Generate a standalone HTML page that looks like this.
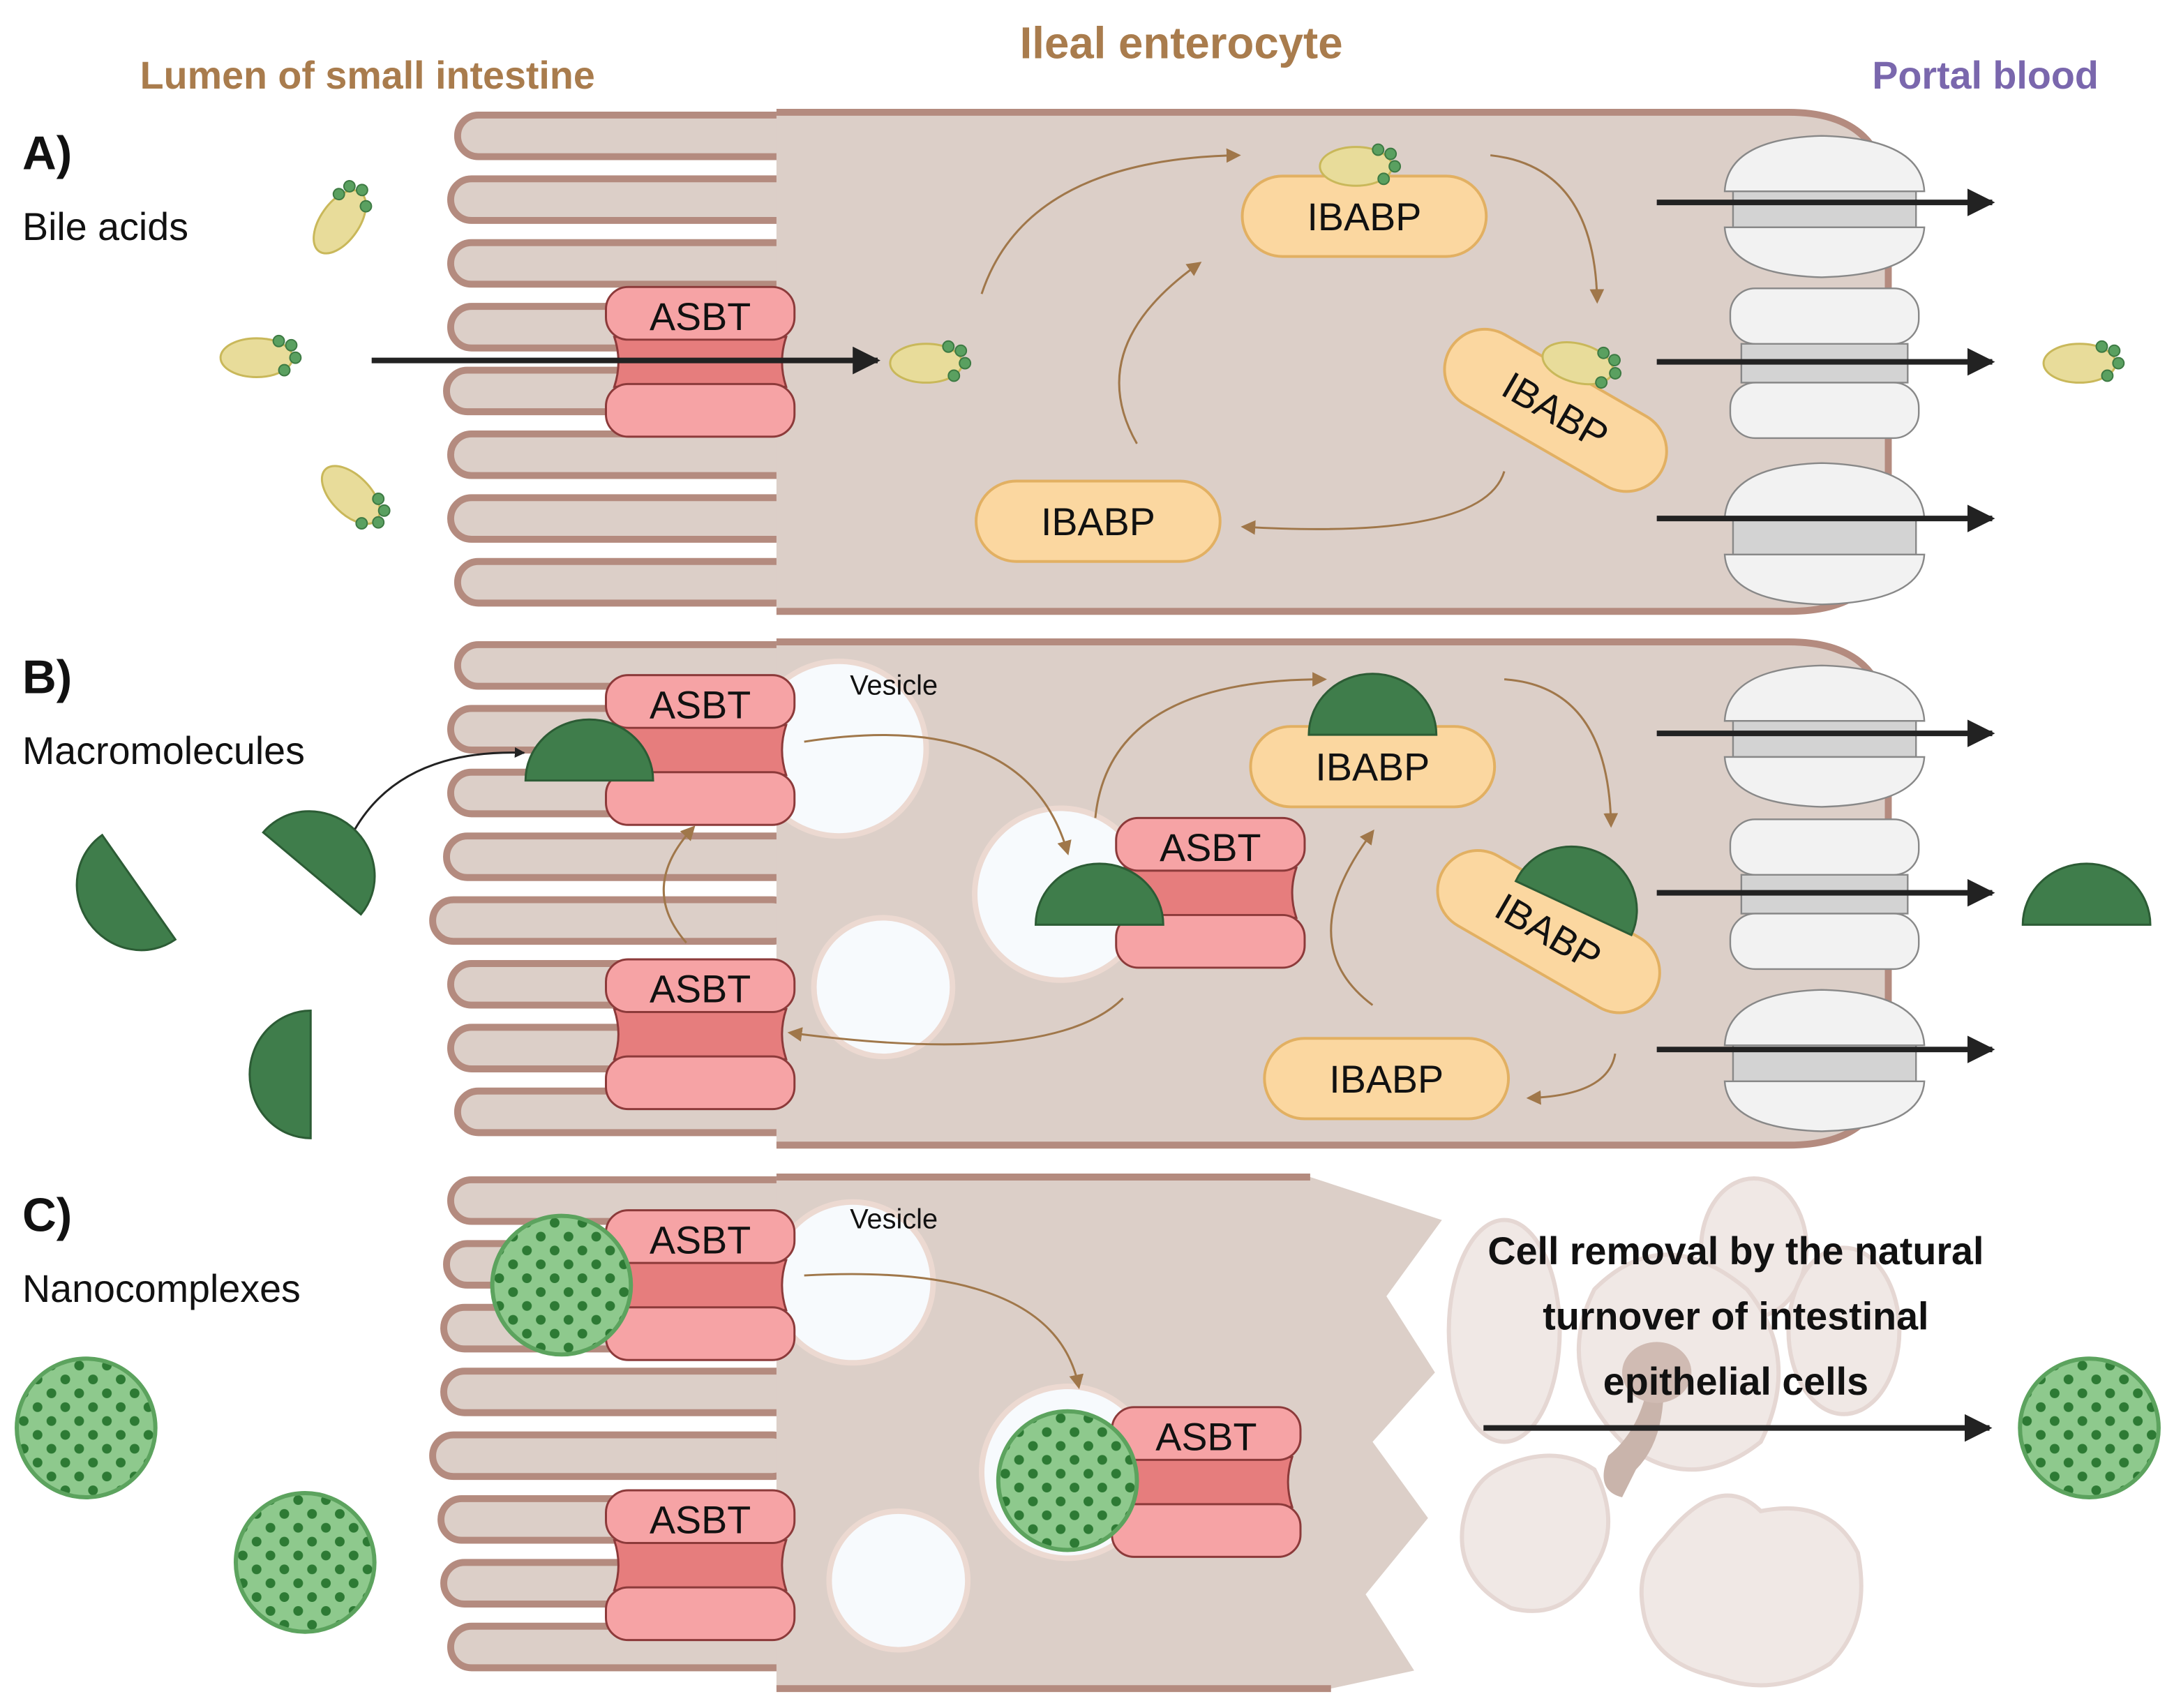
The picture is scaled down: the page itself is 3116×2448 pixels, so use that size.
<!DOCTYPE html>
<html><head><meta charset="utf-8"><style>
html,body{margin:0;padding:0;background:#fff}
svg{display:block}
text{font-family:"Liberation Sans",sans-serif}
</style></head><body>
<svg width="3116" height="2448" viewBox="0 0 1568 1232" xmlns="http://www.w3.org/2000/svg">
<defs>
<marker id="ab" viewBox="0 0 10 10" refX="9" refY="5" markerWidth="5" markerHeight="5" orient="auto"><path d="M0,0 L10,5 L0,10z" fill="#222"/></marker>
<marker id="br" viewBox="0 0 10 10" refX="8" refY="5" markerWidth="7" markerHeight="7" orient="auto"><path d="M0,0 L10,5 L0,10z" fill="#a0774a"/></marker>
<rect id="fg" x="0" y="0" width="260" height="30" rx="15" fill="#dccfc8" stroke="#b48b7f" stroke-width="5"/>
<g id="asbt">
<path d="M6,36 L130,36 Q124,54 130,72 L6,72 Q12,54 6,36z" fill="#e67d7d" stroke="#8c3a3a" stroke-width="1.5"/>
<rect x="0" y="0" width="136" height="38" rx="16" fill="#f6a3a5" stroke="#8c3a3a" stroke-width="1.5"/>
<rect x="0" y="70" width="136" height="38" rx="16" fill="#f6a3a5" stroke="#8c3a3a" stroke-width="1.5"/>
<text x="68" y="31" font-size="28" text-anchor="middle" fill="#111">ASBT</text>
</g>
<g id="ib">
<rect x="-88" y="-29" width="176" height="58" rx="29" fill="#fbd7a0" stroke="#e2b062" stroke-width="2"/>
<text x="0" y="10" font-size="28" text-anchor="middle" fill="#111">IBABP</text>
</g>
<g id="ch">
<path d="M-72,-10 Q-70,-48 -2,-50 Q70,-48 72,-10z" fill="#f2f2f2" stroke="#888" stroke-width="1.2"/>
<rect x="-66" y="-10" width="132" height="26" fill="#d3d3d3" stroke="#888" stroke-width="1.2"/>
<path d="M-72,16 Q-70,50 -2,52 Q70,50 72,16z" fill="#f2f2f2" stroke="#888" stroke-width="1.2"/>
</g>
<g id="ch2">
<rect x="-60" y="-12" width="120" height="28" fill="#d3d3d3" stroke="#888" stroke-width="1.2"/>
<rect x="-68" y="-52" width="136" height="40" rx="18" fill="#f2f2f2" stroke="#888" stroke-width="1.2"/>
<rect x="-68" y="16" width="136" height="40" rx="18" fill="#f2f2f2" stroke="#888" stroke-width="1.2"/>
</g>
<g id="ba">
<ellipse cx="0" cy="0" rx="26" ry="14" fill="#e8dc9a" stroke="#c9b85a" stroke-width="1.5"/>
<circle cx="16" cy="-12" r="4" fill="#5aa060" stroke="#3d7a43"/><circle cx="25" cy="-9" r="4" fill="#5aa060" stroke="#3d7a43"/>
<circle cx="28" cy="0" r="4" fill="#5aa060" stroke="#3d7a43"/><circle cx="20" cy="9" r="4" fill="#5aa060" stroke="#3d7a43"/>
</g>
<path id="md" d="M-46,0 A46,44 0 0 1 46,0z" fill="#3f7d4b" stroke="#2c5c35" stroke-width="1.5"/>
<pattern id="dots" width="20" height="20" patternUnits="userSpaceOnUse"><circle cx="5" cy="5" r="3.5" fill="#2d7a34"/><circle cx="15" cy="15" r="3.5" fill="#2d7a34"/></pattern>
<g id="np"><circle r="50" fill="#8ec98d"/><circle r="50" fill="url(#dots)"/><circle r="50" fill="none" stroke="#5ca35e" stroke-width="3"/></g>
</defs>

<text x="265" y="64" font-size="28" font-weight="bold" fill="#a97c4d" text-anchor="middle">Lumen of small intestine</text>
<text x="852" y="42" font-size="32" font-weight="bold" fill="#a97c4d" text-anchor="middle">Ileal enterocyte</text>
<text x="1432" y="64" font-size="28" font-weight="bold" fill="#7a67ad" text-anchor="middle">Portal blood</text>

<text x="16" y="122" font-size="34" font-weight="bold" fill="#111">A)</text>
<text x="16" y="173" font-size="28" fill="#111">Bile acids</text>
<text x="16" y="500" font-size="34" font-weight="bold" fill="#111">B)</text>
<text x="16" y="551" font-size="28" fill="#111">Macromolecules</text>
<text x="16" y="888" font-size="34" font-weight="bold" fill="#111">C)</text>
<text x="16" y="939" font-size="28" fill="#111">Nanocomplexes</text>

<g>
<use href="#fg" x="330" y="83"/><use href="#fg" x="325" y="129"/><use href="#fg" x="325" y="175"/><use href="#fg" x="325" y="221"/>
<use href="#fg" x="322" y="267"/><use href="#fg" x="325" y="313"/><use href="#fg" x="325" y="359"/><use href="#fg" x="330" y="405"/>
<path d="M560,81 H1290 Q1362,81 1362,150 V380 Q1362,441 1290,441 H560z" fill="#dccfc8"/>
<path d="M560,81 H1290 Q1362,81 1362,150 V380 Q1362,441 1290,441 H560" fill="none" stroke="#b48b7f" stroke-width="5"/>
</g>
<g>
<use href="#fg" x="330" y="465"/><use href="#fg" x="325" y="511"/><use href="#fg" x="325" y="557"/><use href="#fg" x="322" y="603"/>
<use href="#fg" x="312" y="649"/><use href="#fg" x="325" y="695"/><use href="#fg" x="325" y="741"/><use href="#fg" x="330" y="787"/>
<path d="M560,463 H1290 Q1362,463 1362,530 V760 Q1362,826 1290,826 H560z" fill="#dccfc8"/>
<path d="M560,463 H1290 Q1362,463 1362,530 V760 Q1362,826 1290,826 H560" fill="none" stroke="#b48b7f" stroke-width="5"/>
</g>
<g>
<use href="#fg" x="325" y="851"/><use href="#fg" x="322" y="897"/><use href="#fg" x="320" y="943"/><use href="#fg" x="320" y="989"/>
<use href="#fg" x="312" y="1035"/><use href="#fg" x="318" y="1081"/><use href="#fg" x="320" y="1127"/><use href="#fg" x="325" y="1173"/>
<path d="M560,849 H945 L1040,880 L1000,935 L1035,990 L990,1040 L1030,1095 L985,1150 L1020,1205 L960,1218 H560z" fill="#dccfc8"/>
<path d="M560,849 H945 M560,1218 H960" fill="none" stroke="#b48b7f" stroke-width="5"/>
</g>

<g fill="#efe6e3" stroke="#e3d3cf" stroke-width="3" opacity="0.9">
<ellipse cx="1085" cy="960" rx="40" ry="80"/>
<ellipse cx="1265" cy="900" rx="38" ry="50"/>
<ellipse cx="1330" cy="960" rx="40" ry="60"/>
<path d="M1150,930 Q1200,880 1260,930 Q1300,980 1270,1040 Q1220,1080 1170,1040 Q1120,990 1150,930z"/>
<path d="M1080,1060 Q1120,1040 1150,1060 Q1170,1100 1150,1130 Q1130,1170 1090,1160 Q1050,1140 1055,1100 Q1060,1070 1080,1060z"/>
<path d="M1200,1110 Q1240,1060 1270,1090 Q1320,1080 1340,1120 Q1350,1170 1320,1200 Q1280,1225 1240,1210 Q1190,1200 1185,1160 Q1180,1130 1200,1110z"/>
</g>
<path d="M1180,1060 Q1200,1040 1200,1000 Q1198,980 1190,990 Q1185,1030 1160,1050 Q1150,1075 1170,1080z" fill="#c9b4ab"/>
<ellipse cx="1195" cy="990" rx="25" ry="22" fill="#d0bbb3"/>

<use href="#ch" x="1316" y="148"/><use href="#ch2" x="1316" y="260"/><use href="#ch" x="1316" y="384"/>
<use href="#ch" x="1316" y="530"/><use href="#ch2" x="1316" y="643"/><use href="#ch" x="1316" y="764"/>

<use href="#asbt" x="437" y="207"/>
<circle cx="605" cy="540" r="63" fill="#f7fafd" stroke="#ecd9d1" stroke-width="4"/>
<circle cx="637" cy="712" r="50" fill="#f7fafd" stroke="#ecd9d1" stroke-width="4"/>
<circle cx="765" cy="645" r="62" fill="#f7fafd" stroke="#ecd9d1" stroke-width="4"/>
<use href="#asbt" x="437" y="487"/><use href="#asbt" x="437" y="692"/><use href="#asbt" x="805" y="590"/>
<text x="613" y="501" font-size="20" fill="#111">Vesicle</text>
<circle cx="615" cy="925" r="58" fill="#f7fafd" stroke="#ecd9d1" stroke-width="4"/>
<circle cx="648" cy="1140" r="50" fill="#f7fafd" stroke="#ecd9d1" stroke-width="4"/>
<circle cx="770" cy="1062" r="62" fill="#f7fafd" stroke="#ecd9d1" stroke-width="4"/>
<use href="#asbt" x="437" y="873"/><use href="#asbt" x="437" y="1075"/><use href="#asbt" x="802" y="1015"/>
<text x="613" y="886" font-size="20" fill="#111">Vesicle</text>

<use href="#ib" x="984" y="156"/><use href="#ib" x="792" y="376"/>
<use href="#ib" transform="translate(1122,296) rotate(30)"/>
<use href="#ib" x="990" y="553"/><use href="#ib" x="1000" y="778"/>
<use href="#ib" transform="translate(1117,672) rotate(30)"/>

<use href="#ba" transform="translate(245,160) rotate(-55)"/>
<use href="#ba" x="185" y="258"/>
<use href="#ba" transform="translate(253,357) rotate(45)"/>
<use href="#ba" x="668" y="262"/>
<use href="#ba" x="978" y="120"/>
<use href="#ba" transform="translate(1138,262) rotate(15)"/>
<use href="#ba" x="1500" y="262"/>

<use href="#md" x="425" y="563"/>
<use href="#md" x="793" y="667"/>
<use href="#md" x="990" y="530"/>
<use href="#md" transform="translate(1135,655) rotate(25)"/>
<use href="#md" x="1505" y="667"/>
<use href="#md" transform="translate(100,640) rotate(-125)"/>
<use href="#md" transform="translate(225,630) rotate(40)"/>
<use href="#md" transform="translate(224,775) rotate(-90)"/>

<use href="#np" x="405" y="927"/><use href="#np" x="770" y="1068"/>
<use href="#np" x="62" y="1030"/><use href="#np" x="220" y="1127"/><use href="#np" x="1507" y="1030"/>

<g stroke="#222" stroke-width="4" marker-end="url(#ab)">
<line x1="268" y1="260" x2="633" y2="260"/>
<line x1="1195" y1="146" x2="1437" y2="146"/><line x1="1195" y1="261" x2="1437" y2="261"/><line x1="1195" y1="374" x2="1437" y2="374"/>
<line x1="1195" y1="529" x2="1437" y2="529"/><line x1="1195" y1="644" x2="1437" y2="644"/><line x1="1195" y1="757" x2="1437" y2="757"/>
<line x1="1070" y1="1030" x2="1435" y2="1030"/>
</g>
<path d="M256,598 Q290,540 378,543" fill="none" stroke="#222" stroke-width="1.5" marker-end="url(#ab)"/>

<g fill="none" stroke="#a0774a" stroke-width="1.5" marker-end="url(#br)">
<path d="M708,212 Q740,115 893,112"/>
<path d="M1075,112 Q1150,120 1152,217"/>
<path d="M1085,340 Q1070,390 897,380"/>
<path d="M820,320 Q780,250 865,190"/>
<path d="M580,535 Q740,510 770,615"/>
<path d="M810,720 Q760,770 570,745"/>
<path d="M495,680 Q460,640 500,597"/>
<path d="M790,590 Q800,490 955,490"/>
<path d="M1085,490 Q1160,495 1162,595"/>
<path d="M990,725 Q930,680 990,600"/>
<path d="M1165,760 Q1160,790 1103,792"/>
<path d="M580,920 Q760,910 778,1000"/>
</g>

<text x="1252" y="912" font-size="28" font-weight="bold" fill="#111" text-anchor="middle">Cell removal by the natural</text>
<text x="1252" y="959" font-size="28" font-weight="bold" fill="#111" text-anchor="middle">turnover of intestinal</text>
<text x="1252" y="1006" font-size="28" font-weight="bold" fill="#111" text-anchor="middle">epithelial cells</text>
</svg>
</body></html>
